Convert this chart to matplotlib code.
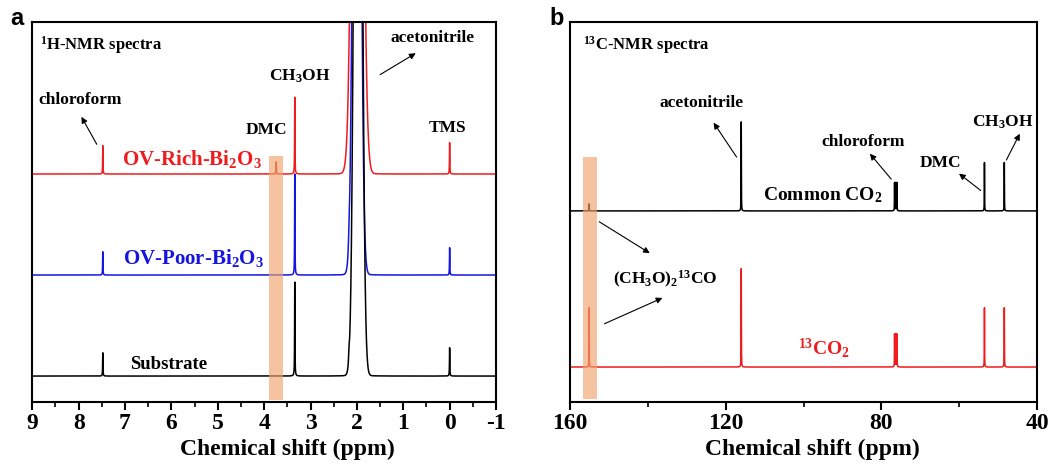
import numpy as np
import matplotlib
matplotlib.use("Agg")
import matplotlib.pyplot as plt
from matplotlib.ticker import MultipleLocator

plt.rcParams["font.family"] = "Liberation Serif"
plt.rcParams["font.weight"] = "bold"
plt.rcParams["axes.labelweight"] = "bold"
plt.rcParams["axes.unicode_minus"] = False
plt.rcParams["mathtext.fontset"] = "custom"
plt.rcParams["mathtext.rm"] = "Liberation Serif:bold"
plt.rcParams["mathtext.it"] = "Liberation Serif:bold"
plt.rcParams["mathtext.bf"] = "Liberation Serif:bold"
plt.rcParams["mathtext.default"] = "rm"

# ---------------- 1H NMR peak lists (ppm, height) ----------------
# narrow lines: chloroform, DMC, CH3OH, TMS
h_names = ["Substrate", "OV-Poor", "OV-Rich"]
h_offsets = [0.0, 1.0, 2.0]
h_colors = ["black", "#1515e0", "#ee1c1c"]
h_pos = [7.48, 3.74, 3.34, 0.0]
h_heights = {
    "Substrate": [0.23, 0.0, 0.93, 0.28],
    "OV-Poor":   [0.23, 0.0, 1.00, 0.27],
    "OV-Rich":   [0.28, 0.12, 0.76, 0.31],
}
# broad, saturated acetonitrile/water region (centre, amplitude, sigma)
h_big = {
    "Substrate": (1.975, 12.0, 0.068),
    "OV-Poor":   (2.00, 10.0, 0.068),
    "OV-Rich":   (1.985, 10.0, 0.090),
}
h_shoulder = {  # small shoulder peak left of the big one (ppm, height)
    "Substrate": (2.17, 0.10),
    "OV-Poor":   (2.17, 0.10),
    "OV-Rich":   (2.17, 0.08),
}

# ---------------- 13C NMR peak lists ----------------
c_names = ["13CO2", "Common CO2"]
c_offsets = [0.0, 1.0]
c_colors = ["#ee1c1c", "black"]
c_pos = [155.1, 116.0, 76.3, 53.5, 48.4]
c_heights = {
    "13CO2":      [0.38, 0.63, 0.21, 0.38, 0.38],
    "Common CO2": [0.045, 0.57, 0.18, 0.31, 0.31],
}

band_a = (3.89, 3.59)
band_b = (156.7, 153.1)


def lorentz(x, x0, h, g):
    return h / (1 + ((x - x0) / g) ** 2)


def h_spectrum(x, name):
    y = np.zeros_like(x)
    for p, h in zip(h_pos, h_heights[name]):
        if h > 0:
            y += lorentz(x, p, h, 0.004)
    c, a, s = h_big[name]
    y += a * np.exp(-(x - c) ** 2 / (2 * s ** 2))
    y += lorentz(x, c, 0.03, 0.10)
    sp, sh = h_shoulder[name]
    y += lorentz(x, sp, sh, 0.01)
    return y


def c_spectrum(x, name):
    y = np.zeros_like(x)
    for p, h in zip(c_pos, c_heights[name]):
        if abs(p - 76.3) < 0.5:
            for dp in (-0.3, 0.0, 0.3):
                y += lorentz(x, p + dp, h, 0.03)
        else:
            y += lorentz(x, p, h, 0.03)
    return y


fig = plt.figure(figsize=(10.56, 4.68), dpi=100)
axA = fig.add_axes([0.0306, 0.141, 0.4391, 0.812])
axB = fig.add_axes([0.5398, 0.141, 0.4422, 0.812])

arrow = dict(arrowstyle="-|>", lw=0.8, color="black", mutation_scale=9)

# ---------------- panel a ----------------
xa = np.linspace(9, -1, 40001)
for name, off, col in zip(h_names[::-1], h_offsets[::-1], h_colors[::-1]):
    axA.plot(xa, off + h_spectrum(xa, name), color=col, lw=1.1, zorder=2)
axA.axvspan(band_a[0], band_a[1], ymin=0.005, ymax=0.647,
            color="#f0a36c", alpha=0.65, lw=0, zorder=4)
axA.set_xlim(9, -1)
axA.set_ylim(-0.257, 3.505)

fs = 12.5
axA.text(8.83, 3.28, r"$^{1}$H-NMR spectra", fontsize=12, va="center", ha="left")
axA.text(7.97, 2.73, "chloroform", fontsize=fs, ha="center", va="center")
axA.annotate("", xy=(7.97, 2.59), xytext=(7.58, 2.27), arrowprops=arrow)
axA.text(3.23, 2.97, r"CH$_3$OH", fontsize=fs, ha="center", va="center")
axA.text(3.94, 2.44, "DMC", fontsize=fs, ha="center", va="center")
axA.text(0.04, 2.46, "TMS", fontsize=fs, ha="center", va="center")
axA.text(0.36, 3.35, "acetonitrile", fontsize=fs, ha="center", va="center")
axA.annotate("", xy=(0.68, 3.21), xytext=(1.55, 2.97), arrowprops=arrow)
axA.text(7.06, 2.09, r"OV-Rich-Bi$_2$O$_3$", fontsize=15, color="#ee1c1c",
         ha="left", va="baseline")
axA.text(7.04, 1.11, r"OV-Poor-Bi$_2$O$_3$", fontsize=15, color="#1515e0",
         ha="left", va="baseline")
axA.text(6.89, 0.07, "Substrate", fontsize=13.5, color="black", ha="left", va="baseline")

axA.xaxis.set_major_locator(MultipleLocator(1))
axA.xaxis.set_minor_locator(MultipleLocator(0.5))
axA.set_xlabel("Chemical shift (ppm)", fontsize=17, fontweight="bold")
axA.xaxis.set_label_coords(0.55, -0.098)
axA.set_yticks([])

# ---------------- panel b ----------------
xb = np.linspace(160, 40, 48001)
for name, off, col in zip(c_names, c_offsets, c_colors):
    axB.plot(xb, off + c_spectrum(xb, name), color=col, lw=1.1, zorder=2)
axB.axvspan(band_b[0], band_b[1], ymin=0.008, ymax=0.645,
            color="#f0a36c", alpha=0.65, lw=0, zorder=4)
axB.set_xlim(160, 40)
axB.set_ylim(-0.224, 2.21)

axB.text(156.7, 2.06, r"$^{13}$C-NMR spectra", fontsize=12, va="center", ha="left")
axB.text(126.1, 1.69, "acetonitrile", fontsize=fs, ha="center", va="center")
axB.annotate("", xy=(123.5, 1.58), xytext=(116.8, 1.33), arrowprops=arrow)
axB.text(84.7, 1.44, "chloroform", fontsize=fs, ha="center", va="center")
axB.annotate("", xy=(83.4, 1.38), xytext=(77.0, 1.19), arrowprops=arrow)
axB.text(64.9, 1.31, "DMC", fontsize=fs, ha="center", va="center")
axB.annotate("", xy=(60.6, 1.25), xytext=(53.9, 1.12), arrowprops=arrow)
axB.text(48.7, 1.57, r"CH$_3$OH", fontsize=fs, ha="center", va="center")
axB.annotate("", xy=(44.1, 1.51), xytext=(48.2, 1.31), arrowprops=arrow)
axB.text(110.4, 1.07, r"Common CO$_2$", fontsize=14, ha="left", va="baseline")
axB.text(148.9, 0.53, r"(CH$_3$O)$_2$$^{13}$CO", fontsize=12.5, ha="left", va="baseline")
axB.annotate("", xy=(138.9, 0.72), xytext=(153.1, 0.94), arrowprops=arrow)
axB.annotate("", xy=(135.6, 0.45), xytext=(151.8, 0.27), arrowprops=arrow)
axB.text(101.4, 0.08, r"$^{13}$CO$_2$", fontsize=14, color="#ee1c1c", ha="left", va="baseline")

axB.xaxis.set_major_locator(MultipleLocator(40))
axB.xaxis.set_minor_locator(MultipleLocator(20))
axB.set_xlabel("Chemical shift (ppm)", fontsize=17, fontweight="bold")
axB.xaxis.set_label_coords(0.52, -0.098)
axB.set_yticks([])

for ax in (axA, axB):
    for sp in ax.spines.values():
        sp.set_linewidth(1.5)
    ax.tick_params(axis="x", which="major", direction="out", length=6, width=1.5,
                   labelsize=17, pad=2)
    ax.tick_params(axis="x", which="minor", direction="out", length=3.5, width=1.2)
    for lab in ax.get_xticklabels():
        lab.set_fontweight("bold")

fig.text(10 / 1056, 1 - 25 / 468, "a", fontsize=17, fontweight="bold",
         family="Liberation Sans", ha="left", va="baseline")
fig.text(549 / 1056, 1 - 25 / 468, "b", fontsize=17, fontweight="bold",
         family="Liberation Sans", ha="left", va="baseline")

fig.savefig("out.png", dpi=100)
